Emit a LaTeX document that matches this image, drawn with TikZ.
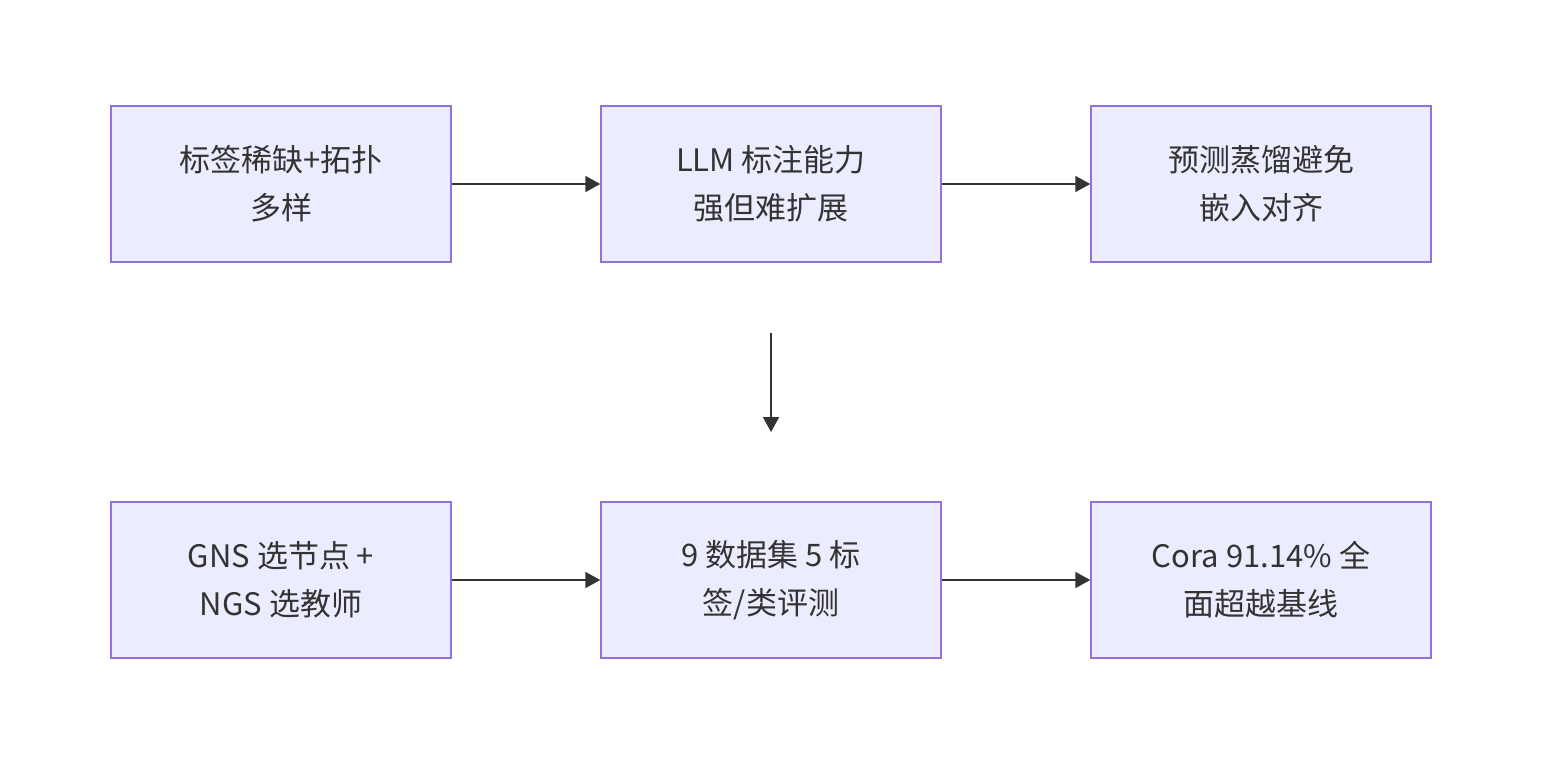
\documentclass[tikz,border=0pt]{standalone}
\usepackage{fontspec}
\setmainfont{Noto Sans CJK SC}
\usetikzlibrary{arrows.meta}
\definecolor{boxfill}{HTML}{ECECFF}
\definecolor{boxline}{HTML}{9370DB}
\definecolor{ink}{HTML}{333333}
\begin{document}
\begin{tikzpicture}[x=1pt,y=-1pt,
  box/.style={draw=boxline,line width=1.5pt,fill=boxfill,minimum width=340pt,minimum height=156pt,inner sep=0pt,
    text=ink,align=center,font=\fontsize{31}{48}\selectfont},
  conn/.style={draw=ink,line width=2pt,-{Triangle[length=15pt,width=16pt]}}]
\useasboundingbox (0,0) rectangle (1542,764);
\node[box] (a) at (281,184) {标签稀缺+拓扑\\多样};
\node[box] (b) at (771,184) {LLM 标注能力\\强但难扩展};
\node[box] (c) at (1261,184) {预测蒸馏避免\\嵌入对齐};
\node[box] (d) at (281,580) {GNS 选节点 +\\NGS 选教师};
\node[box] (e) at (771,580) {9 数据集 5 标\\签/类评测};
\node[box] (f) at (1261,580) {Cora 91.14\% 全\\面超越基线};
\coordinate (v1) at (771,333);
\coordinate (v2) at (771,432);
\draw[conn] (a) -- (b);
\draw[conn] (b) -- (c);
\draw[conn] (v1) -- (v2);
\draw[conn] (d) -- (e);
\draw[conn] (e) -- (f);
\end{tikzpicture}
\end{document}
